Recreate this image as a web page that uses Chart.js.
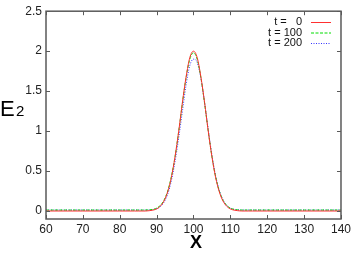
<!DOCTYPE html>
<html>
<head>
<meta charset="utf-8">
<script src="https://cdn.jsdelivr.net/npm/chart.js@4.4.1/dist/chart.umd.min.js"></script>
<style>
  html, body { margin: 0; padding: 0; background: #ffffff; }
  #wrap { width: 354px; height: 259px; }
</style>
</head>
<body>
<div id="wrap"><canvas id="plot" width="354" height="259"></canvas></div>
<script>
// values
const xTicks = [60, 70, 80, 90, 100, 110, 120, 130, 140];
const yTicks = [0, 0.5, 1, 1.5, 2, 2.5];
const seriesLabels = ['t =   0', 't = 100', 't = 200'];

const xs = [60, 70, 80, 84, 85, 86, 87, 88, 89, 90, 91, 92, 93, 94, 95, 96, 97, 98, 99,
            100, 101, 102, 103, 104, 105, 106, 107, 108, 109, 110, 111, 112, 113, 114, 115, 116,
            120, 130, 140];

const e2t0 = [0, 0, 0, 0, 0, 0, 0, 0.004, 0.011, 0.026, 0.06, 0.125, 0.24, 0.42, 0.68, 1.00, 1.36, 1.68, 1.92,
              2.00, 1.92, 1.68, 1.36, 1.00, 0.68, 0.42, 0.24, 0.125, 0.06, 0.026, 0.011, 0.004, 0, 0, 0, 0,
              0, 0, 0];

const e2t100 = [0.012, 0.012, 0.012, 0.012, 0.012, 0.012, 0.012, 0.015, 0.02, 0.036, 0.07, 0.135, 0.25, 0.43, 0.68, 1.00, 1.35, 1.67, 1.90,
                1.98, 1.90, 1.67, 1.35, 1.00, 0.68, 0.43, 0.25, 0.135, 0.07, 0.036, 0.02, 0.015, 0.012, 0.012, 0.012, 0.012,
                0.012, 0.012, 0.012];

const e2t200 = [0.012, 0.012, 0.012, 0.012, 0.012, 0.012, 0.012, 0.013, 0.018, 0.03, 0.055, 0.11, 0.21, 0.38, 0.62, 0.92, 1.25, 1.58, 1.82,
                1.90, 1.86, 1.66, 1.36, 1.02, 0.70, 0.44, 0.26, 0.14, 0.07, 0.036, 0.02, 0.015, 0.012, 0.012, 0.012, 0.012,
                0.012, 0.012, 0.012];

const colors = ['#ff3030', '#00dd00', '#3333ff'];
const dashes = [[], [3, 1.5], [1, 1.5]];

function toPoints(ys) {
  return xs.map((x, i) => ({ x: x, y: ys[i] }));
}

const font = "'Liberation Sans', Arial, sans-serif";

// frame, inward ticks, legend and axis titles
const decor = {
  id: 'decor',
  afterDraw(chart) {
    const ctx = chart.ctx;
    const a = chart.chartArea;
    const sx = chart.scales.x;
    const sy = chart.scales.y;
    ctx.save();
    ctx.strokeStyle = '#5a5a5a';
    ctx.lineWidth = 1;
    xTicks.forEach(v => {
      const p = Math.round(sx.getPixelForValue(v)) + 0.5;
      ctx.beginPath();
      ctx.moveTo(p, a.bottom); ctx.lineTo(p, a.bottom - 4);
      ctx.moveTo(p, a.top); ctx.lineTo(p, a.top + 4);
      ctx.stroke();
    });
    yTicks.forEach(v => {
      const p = Math.round(sy.getPixelForValue(v)) + 0.5;
      ctx.beginPath();
      ctx.moveTo(a.left, p); ctx.lineTo(a.left + 4, p);
      ctx.moveTo(a.right, p); ctx.lineTo(a.right - 4, p);
      ctx.stroke();
    });
    ctx.lineWidth = 1.5;
    ctx.strokeRect(a.left, a.top, a.right - a.left, a.bottom - a.top);

    // legend
    ctx.font = '11px ' + font;
    ctx.textAlign = 'right';
    ctx.textBaseline = 'middle';
    const rows = [22, 32.5, 43];
    seriesLabels.forEach((lab, i) => {
      ctx.fillStyle = '#111';
      ctx.fillText(lab, 302, rows[i]);
      ctx.strokeStyle = colors[i];
      ctx.lineWidth = 1;
      ctx.setLineDash(dashes[i]);
      ctx.beginPath();
      ctx.moveTo(311, rows[i] + 0.5);
      ctx.lineTo(331, rows[i] + 0.5);
      ctx.stroke();
    });
    ctx.setLineDash([]);

    // axis titles
    ctx.fillStyle = '#000';
    ctx.textAlign = 'left';
    ctx.textBaseline = 'alphabetic';
    ctx.font = '22px ' + font;
    ctx.fillText('E', 0, 116);
    ctx.font = '15px ' + font;
    ctx.fillText('2', 16, 116);
    ctx.font = 'bold 18px ' + font;
    ctx.textAlign = 'center';
    ctx.fillText('X', 196, 248);
    ctx.restore();
  }
};

new Chart(document.getElementById('plot'), {
  type: 'line',
  data: {
    datasets: [e2t0, e2t100, e2t200].map((ys, i) => ({
      label: seriesLabels[i],
      data: toPoints(ys),
      borderColor: colors[i],
      borderWidth: 1,
      borderDash: dashes[i],
      pointRadius: 0,
      cubicInterpolationMode: 'monotone',
      fill: false
    }))
  },
  options: {
    responsive: false,
    animation: false,
    layout: { padding: { left: 0, top: 6, right: 11, bottom: 0 } },
    plugins: {
      legend: { display: false },
      tooltip: { enabled: false }
    },
    scales: {
      x: {
        type: 'linear',
        min: 60,
        max: 140,
        afterBuildTicks: s => { s.ticks = xTicks.map(v => ({ value: v })); },
        afterFit: s => { s.height = 40; },
        grid: { display: false, drawTicks: false },
        border: { display: false },
        ticks: {
          color: '#222',
          padding: 3,
          maxRotation: 0,
          font: { family: font, size: 12 },
          callback: v => String(v)
        }
      },
      y: {
        type: 'linear',
        min: -0.1,
        max: 2.5,
        afterBuildTicks: s => { s.ticks = yTicks.map(v => ({ value: v })); },
        afterFit: s => { s.width = 46; },
        grid: { display: false, drawTicks: false },
        border: { display: false },
        ticks: {
          color: '#222',
          padding: 4,
          font: { family: font, size: 12 },
          callback: v => String(v)
        }
      }
    }
  },
  plugins: [decor]
});
</script>
</body>
</html>
